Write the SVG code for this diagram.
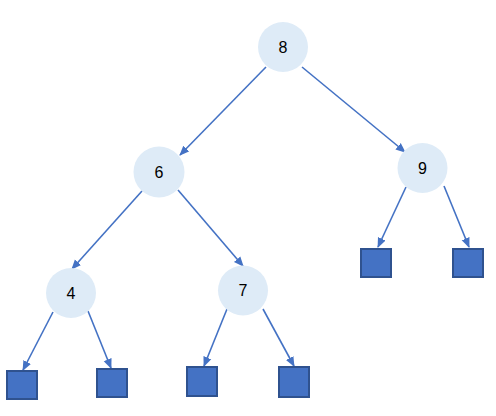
<svg xmlns="http://www.w3.org/2000/svg" width="496" height="416" viewBox="0 0 496 416">
<style>
.n circle{fill:#DEEBF7;stroke:none}
.n text{font-family:"Liberation Sans","DejaVu Sans",sans-serif;font-size:16px;fill:#000;text-anchor:middle;dominant-baseline:central}
.leaf rect{fill:#4472C4;stroke:#2F528F;stroke-width:2}
#edges line{stroke:#4472C4;stroke-width:1.6;marker-end:url(#ah)}
</style>
<defs>
<marker id="ah" markerUnits="userSpaceOnUse" markerWidth="10" markerHeight="10" viewBox="0 0 10 10" refX="9" refY="5" orient="auto">
<path d="M0,0.8 L10,5 L0,9.2 Z" fill="#4472C4"/>
</marker>
</defs>
<rect width="496" height="416" fill="#fff"/>
<g id="edges">
<line x1="266" y1="67" x2="180" y2="155"/>
<line x1="302" y1="67" x2="405" y2="152"/>
<line x1="142" y1="191" x2="72" y2="269"/>
<line x1="178" y1="190" x2="243" y2="266"/>
<line x1="406" y1="187" x2="378" y2="247"/>
<line x1="444" y1="186" x2="469" y2="247"/>
<line x1="53" y1="312" x2="23" y2="370"/>
<line x1="88" y1="311" x2="111" y2="368"/>
<line x1="227" y1="309" x2="204" y2="366"/>
<line x1="263" y1="309" x2="294" y2="366"/>
</g>
<g id="n8" class="n"><circle cx="283" cy="47" r="25"/><text x="283" y="47">8</text></g>
<g id="n6" class="n"><circle cx="159" cy="172" r="25.5"/><text x="159" y="172">6</text></g>
<g id="n9" class="n"><circle cx="422.5" cy="168" r="25"/><text x="422.5" y="168">9</text></g>
<g id="n4" class="n"><circle cx="71" cy="293" r="25"/><text x="71" y="293">4</text></g>
<g id="n7" class="n"><circle cx="243" cy="290.5" r="25"/><text x="243" y="290.5">7</text></g>
<g id="l1" class="leaf"><rect x="7" y="371" width="30" height="28"/></g>
<g id="l2" class="leaf"><rect x="97" y="369" width="30" height="28"/></g>
<g id="l3" class="leaf"><rect x="187" y="367" width="30" height="29"/></g>
<g id="l4" class="leaf"><rect x="279" y="367" width="30" height="30"/></g>
<g id="l5" class="leaf"><rect x="361" y="249" width="30" height="28"/></g>
<g id="l6" class="leaf"><rect x="453" y="249" width="30" height="28"/></g>
</svg>
